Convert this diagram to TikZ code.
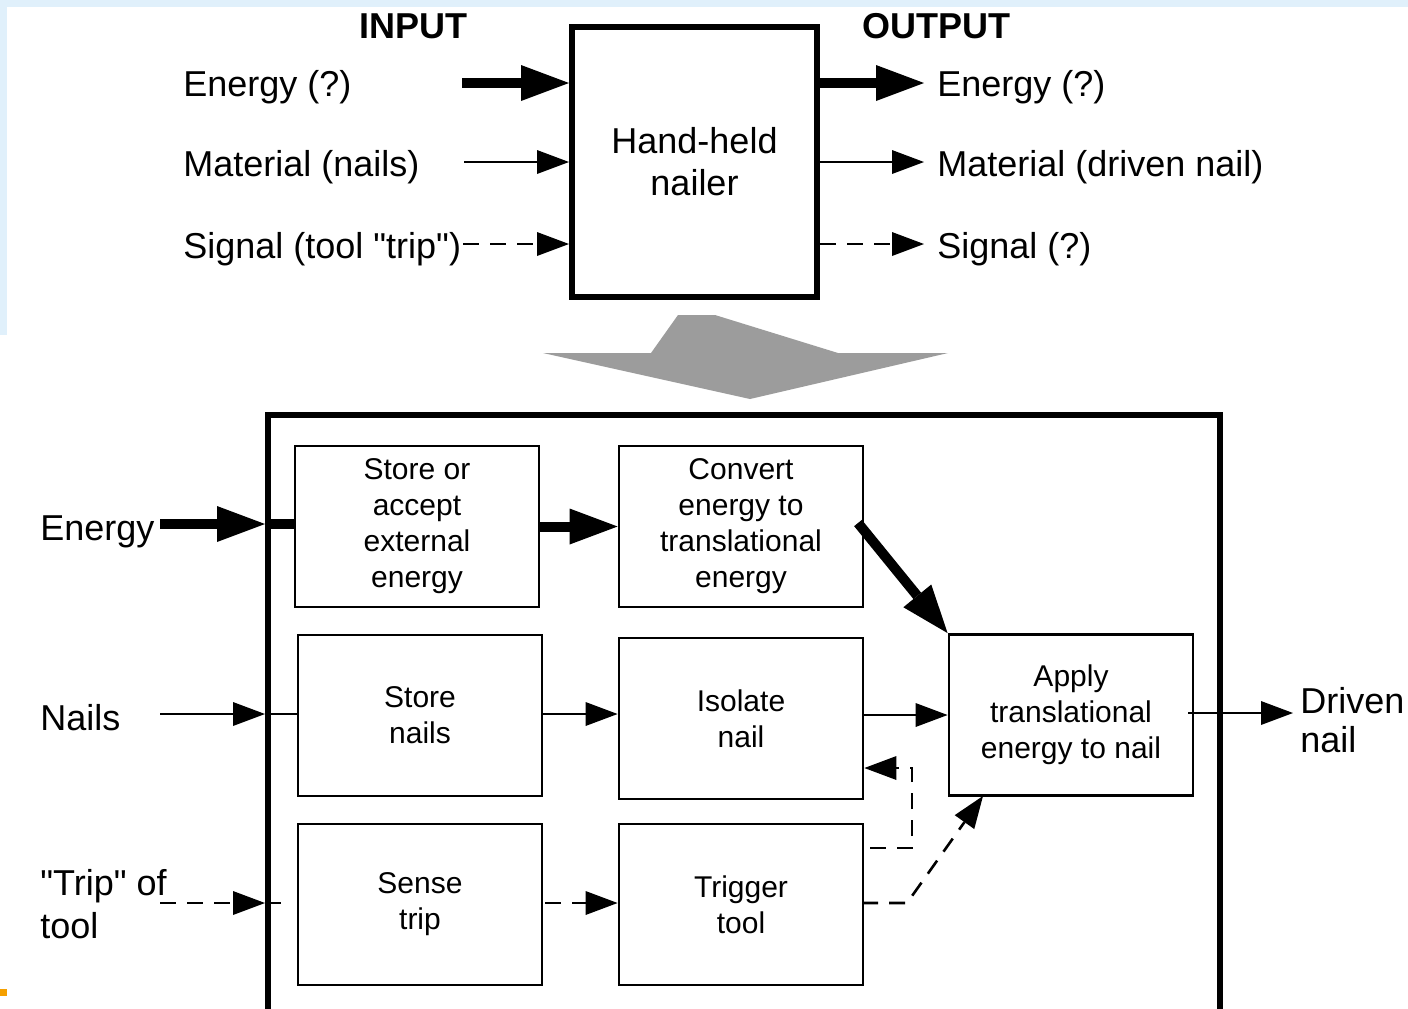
\documentclass[tikz,border=0pt]{standalone}
\usepackage{fontspec}
\setmainfont{Liberation Sans}[Ligatures=TeXOff]
\usetikzlibrary{arrows.meta}
\definecolor{frameblue}{RGB}{224,240,251}
\definecolor{markorange}{RGB}{245,160,0}
\definecolor{funnelgray}{RGB}{156,156,156}

\tikzset{
  lbl/.style={inner sep=0pt, font=\fontsize{18}{21}\selectfont},
  heading/.style={inner sep=0pt, font=\fontsize{18}{21}\selectfont\bfseries},
  fnbox/.style={draw, line width=1.4pt, minimum width=122pt, minimum height=80.5pt,
    inner sep=0pt, align=center, font=\fontsize{15}{18}\selectfont},
  heavy/.style={line width=5pt, -{Triangle[length=24pt,width=18pt,line width=0pt]}},
  plain/.style={line width=1.3pt, -{Triangle[length=16pt,width=12pt,line width=0pt]}},
  sigdash/.style={dash pattern=on 8pt off 5.5pt},
  sig/.style={plain, sigdash},
}

\begin{document}
\begin{tikzpicture}[x=0.5pt,y=-0.5pt]
  \useasboundingbox (0,0) rectangle (1408,1008);
  % page frame and corner mark
  \fill[white] (0,0) rectangle (1408,1008);
  \fill[frameblue] (0,0) rectangle (1408,7);
  \fill[frameblue] (0,0) rectangle (7,335);
  \fill[markorange] (0,989) rectangle (7,996);

  % ---- black-box view ----
  \node[heading, anchor=base] (inhead) at (413,38) {INPUT};
  \node[heading, anchor=base] (outhead) at (936,38) {OUTPUT};

  \node[draw, line width=3pt, minimum width=122.5pt, minimum height=135pt, inner sep=0pt,
        align=center, font=\fontsize{18}{21}\selectfont] (hh) at (694.5,162) {Hand-held\\nailer};

  \node[lbl, anchor=base west] (inE) at (183,96)  {Energy (?)};
  \node[lbl, anchor=base west] (inM) at (183,176) {Material (nails)};
  \node[lbl, anchor=base west] (inS) at (183,258) {Signal (tool "trip")};

  \node[lbl, anchor=base west] (outE) at (937,96)  {Energy (?)};
  \node[lbl, anchor=base west] (outM) at (937,176) {Material (driven nail)};
  \node[lbl, anchor=base west] (outS) at (937,258) {Signal (?)};

  \coordinate (aE) at (462,83);
  \coordinate (aM) at (464,162);
  \coordinate (aS) at (463,244);
  \coordinate (bE) at (924,83);
  \coordinate (bM) at (924,162);
  \coordinate (bS) at (924,244);

  \draw[heavy] (aE) -- (hh.west |- aE);
  \draw[plain] (aM) -- (hh.west |- aM);
  \draw[sig]   (aS) -- (hh.west |- aS);
  \draw[heavy] (hh.east |- bE) -- (bE);
  \draw[plain] (hh.east |- bM) -- (bM);
  \draw[sig]   (hh.east |- bS) -- (bS);

  % decomposition funnel
  \fill[funnelgray] (543,353) -- (651,353) -- (678,315) -- (715,315) -- (838,353)
    -- (948,353) -- (750,399) -- cycle;

  % ---- function structure ----
  \begin{scope}
    \clip (0,0) rectangle (1408,1008);
    \node[draw, line width=3pt, minimum width=476pt, minimum height=312.5pt, inner sep=0pt]
      (sys) at (744,727.5) {};
  \end{scope}

  \node[fnbox] (store)   at (417,526.5)  {Store or\\accept\\external\\energy};
  \node[fnbox] (convert) at (741,526.5)  {Convert\\energy to\\translational\\energy};
  \node[fnbox] (storeN)  at (420,715.5)  {Store\\nails};
  \node[fnbox] (isolate) at (741,718.5)  {Isolate\\nail};
  \node[fnbox] (sense)   at (420,904.5)  {Sense\\trip};
  \node[fnbox] (trigger) at (741,904.5)  {Trigger\\tool};
  \node[fnbox] (apply)   at (1071,715)   {Apply\\translational\\energy to nail};

  \node[lbl, anchor=base west] (eL) at (40,540) {Energy};
  \node[lbl, anchor=base west] (nL) at (40,730) {Nails};
  \node[lbl, anchor=west, align=left, font=\fontsize{18}{21.5}\selectfont] (tL) at (40,904) {"Trip" of\\tool};
  \node[lbl, anchor=west, align=left, font=\fontsize{18}{19.5}\selectfont] (dL) at (1300,720) {Driven\\nail};

  % energy flow
  \coordinate (eS) at (160,524);
  \draw[heavy] (eS) -- (sys.west |- eS);
  \draw[line width=5pt] (sys.west |- eS) -- (store.west |- eS);
  \draw[heavy] (store.east) -- (convert.west);
  \coordinate (cS) at (858,523);
  \draw[heavy] (cS) -- (apply.north west);

  % material flow
  \coordinate (nS) at (160,714);
  \draw[plain] (nS) -- (sys.west |- nS);
  \draw[line width=1.3pt] (sys.west |- nS) -- (storeN.west |- nS);
  \draw[plain] (storeN.east |- nS) -- (isolate.west |- nS);
  \draw[plain] (isolate.east |- apply.west) -- (apply.west);
  \coordinate (dS) at (1188,713);
  \coordinate (dT) at (1293,713);
  \draw[plain] (dS) -- (dT);

  % signal flow
  \coordinate (tS) at (160,903);
  \coordinate (tE) at (287,903);
  \draw[sig] (tS) -- (sys.west |- tS);
  \draw[line width=1.3pt, sigdash] (sys.west |- tS) -- (tE);
  \coordinate (sS) at (545,903);
  \draw[sig] (sS) -- (trigger.west |- sS);

  \coordinate (fb1) at (870,848);
  \coordinate (fb2) at (912,848);
  \coordinate (fb3) at (912,768);
  \draw[sig] (fb1) -- (fb2) -- (fb3) -- (isolate.east |- fb3);

  \coordinate (tr1) at (862,903);
  \coordinate (tr2) at (907,903);
  \coordinate (apB) at (983,796);
  \draw[sig] (tr1) -- (tr2) -- (apB);
\end{tikzpicture}
\end{document}
